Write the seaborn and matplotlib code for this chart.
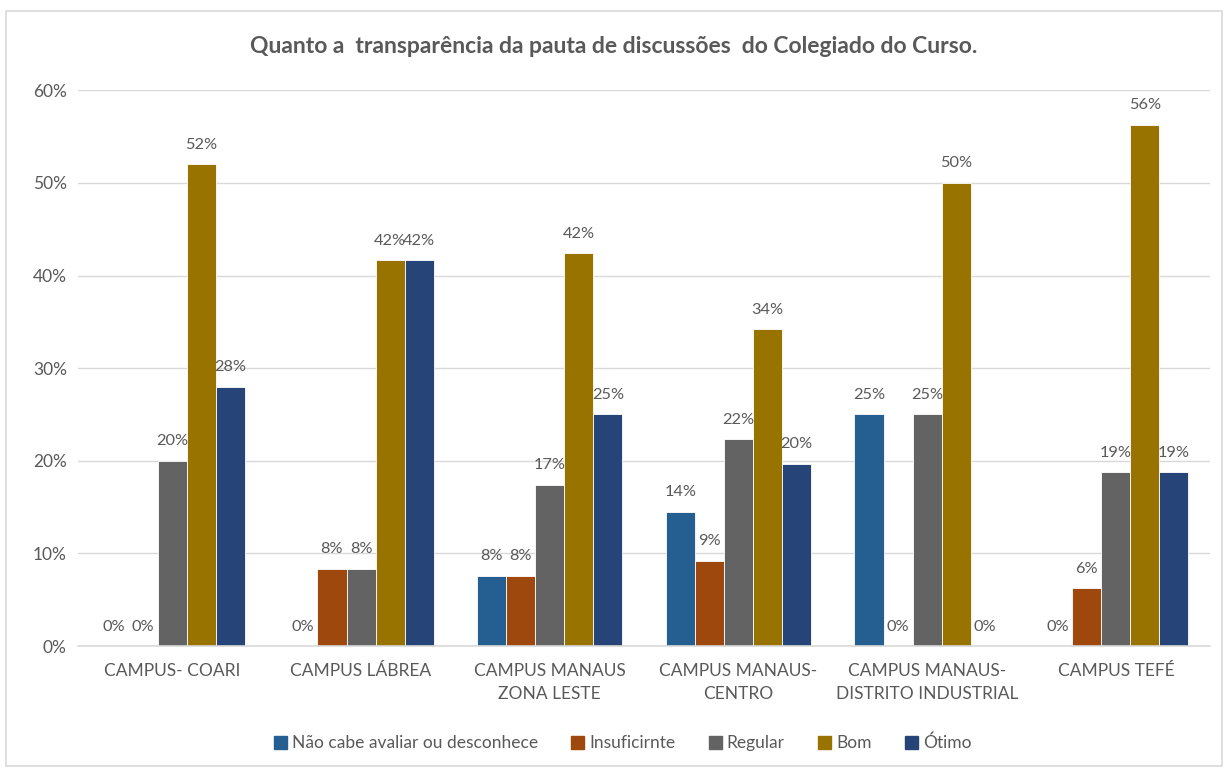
import matplotlib
matplotlib.use("Agg")
import matplotlib.pyplot as plt
from matplotlib.patches import Rectangle
import seaborn as sns
import pandas as pd

campus = ["CAMPUS- COARI", "CAMPUS LÁBREA", "CAMPUS MANAUS\nZONA LESTE",
          "CAMPUS MANAUS-\nCENTRO", "CAMPUS MANAUS-\nDISTRITO INDUSTRIAL", "CAMPUS TEFÉ"]
series = ["Não cabe avaliar ou desconhece", "Insuficirnte", "Regular", "Bom", "Ótimo"]
nao_cabe = [0, 0, 7.6, 14.5, 25, 0]
insuficiente = [0, 8.33, 7.6, 9.2, 0, 6.25]
regular = [20, 8.33, 17.4, 22.3, 25, 18.75]
bom = [52, 41.67, 42.4, 34.2, 50, 56.25]
otimo = [28, 41.67, 25, 19.7, 0, 18.75]
colors = ["#255E91", "#9E480E", "#636363", "#997300", "#264478"]

rows = []
for name, vals in zip(series, [nao_cabe, insuficiente, regular, bom, otimo]):
    for c, v in zip(campus, vals):
        rows.append({"campus": c, "serie": name, "valor": v})
df = pd.DataFrame(rows)

sns.set_style("white")
plt.rcParams["font.family"] = ["Lato", "DejaVu Sans"]
txt = "#595959"
fs = 12.5

fig = plt.figure(figsize=(12.28, 7.71), dpi=100)
ax = fig.add_axes([0.0635, 0.162, 0.922, 0.721])

sns.barplot(data=df, x="campus", y="valor", hue="serie", order=campus,
            hue_order=series, palette=colors, saturation=1, width=0.77, gap=0,
            edgecolor="white", linewidth=0.6, ax=ax)

for cont, vals in zip(ax.containers, [nao_cabe, insuficiente, regular, bom, otimo]):
    ax.bar_label(cont, labels=[f"{round(v):.0f}%" for v in vals],
                 padding=9, fontsize=11.8, color=txt)

ax.set_ylim(0, 60)
ax.set_yticks(range(0, 61, 10))
ax.set_yticklabels([f"{t}%" for t in range(0, 61, 10)])
ax.set_xlim(-0.5, 5.5)
ax.set_xlabel("")
ax.set_ylabel("")
ax.grid(axis="y", color="#D9D9D9", linewidth=1)
ax.set_axisbelow(True)
for s in ["top", "right", "left"]:
    ax.spines[s].set_visible(False)
ax.spines["bottom"].set_color("#D9D9D9")
ax.spines["bottom"].set_linewidth(1.2)
ax.tick_params(axis="both", length=0, labelsize=fs, labelcolor=txt)
ax.tick_params(axis="y", pad=8)
ax.tick_params(axis="x", pad=12)
for lab in ax.get_xticklabels():
    lab.set_linespacing(1.55)
ax.get_legend().remove()

fig.text(0.5, 0.94, "Quanto a  transparência da pauta de discussões  do Colegiado do Curso.",
         ha="center", va="center", fontsize=16.5, fontweight="bold", color=txt)

handles = [Rectangle((0, 0), 1, 1, color=c) for c in colors]
fig.legend(handles, series, loc="center", bbox_to_anchor=(0.507, 0.036), ncol=5,
           frameon=False, fontsize=fs, labelcolor=txt, handlelength=0.75,
           handleheight=0.75, handletextpad=0.3, columnspacing=1.9)

fig.patches.append(Rectangle((0.005, 0.007), 0.99, 0.979, transform=fig.transFigure,
                             fill=False, edgecolor="#D9D9D9", linewidth=1.2))

fig.savefig("out.png", dpi=100)
